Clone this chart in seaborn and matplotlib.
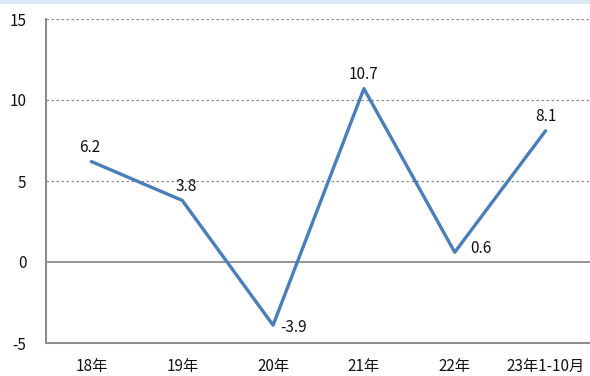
import matplotlib
matplotlib.use("Agg")
import matplotlib.pyplot as plt
import seaborn as sns
import pandas as pd
from matplotlib.patches import Rectangle

categories = ["18年", "19年", "20年", "21年", "22年", "23年1-10月"]
values = [6.2, 3.8, -3.9, 10.7, 0.6, 8.1]
yticks = [-5, 0, 5, 10, 15]

sns.set_theme(style="white")
plt.rcParams['font.family'] = ['Noto Sans CJK SC', 'DejaVu Sans']

df = pd.DataFrame({"x": list(range(len(categories))), "v": values})

fig = plt.figure(figsize=(5.9, 3.76), dpi=100)
ax = fig.add_axes([46/590, 33/376, 545/590, 324/376])

# decorative strip at top
fig.patches.append(Rectangle((0, 373/376), 1, 3/376, transform=fig.transFigure,
                             color="#dce6f2", zorder=0))

for y in [5, 10, 15]:
    ax.axhline(y, color="#8c8c8c", lw=0.9, ls=(0, (2, 2)), zorder=1)
ax.axhline(0, color="#8c8c8c", lw=1.3, zorder=1)

sns.lineplot(data=df, x="x", y="v", ax=ax, color="#4A7EBB", lw=2.4, zorder=3)

ax.set_xlim(-0.5, 5.5)
ax.set_ylim(-5, 15)
ax.set_xticks(range(len(categories)))
ax.set_xticklabels(categories)
ax.set_yticks(yticks)
ax.set_yticklabels([str(t) for t in yticks])
ax.tick_params(axis="both", length=0, labelsize=11, colors="#111111")
ax.tick_params(axis="y", pad=14)
ax.tick_params(axis="x", pad=11)
ax.set_xlabel("")
ax.set_ylabel("")

for s in ["top", "right"]:
    ax.spines[s].set_visible(False)
for s in ["left", "bottom"]:
    ax.spines[s].set_color("#8c8c8c")
    ax.spines[s].set_linewidth(1.5)

offsets = [(-1, 10, "center"), (3, 10, "center"), (5, -2, "left"),
           (0, 10, "center"), (11, 3, "left"), (0, 10, "center")]
for i, (v, (dx, dy, ha)) in enumerate(zip(values, offsets)):
    ax.annotate(f"{v}", (i, v), xytext=(dx, dy), textcoords="offset points",
                ha=ha, va="center", fontsize=11, color="#111111")

fig.savefig("out.png", dpi=100)
